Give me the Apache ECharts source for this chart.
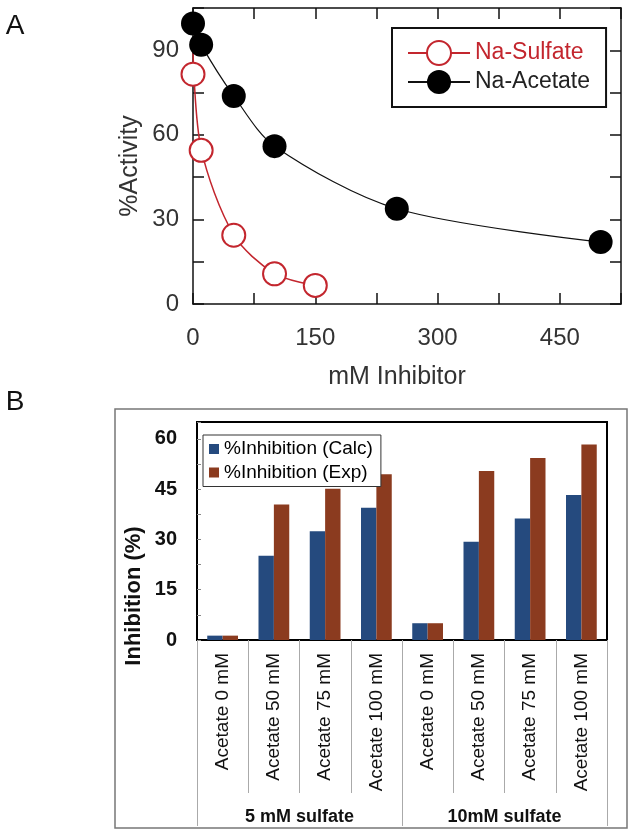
<!DOCTYPE html>
<html><head><meta charset="utf-8">
<script src="https://cdn.jsdelivr.net/npm/echarts@6/dist/echarts.min.js"></script>
<style>html,body{margin:0;padding:0;background:#fff}#c{width:632px;height:833px}</style>
</head><body><div id="c"></div>
<script>
// ---- Panel A data ----
const acetateX = [0, 10, 50, 100, 250, 500];
const acetateY = [99.5, 92, 73.8, 56, 33.8, 22];
const sulfateX = [0, 10, 50, 100, 150];
const sulfateY = [81.5, 54.5, 24.4, 10.7, 6.6];
const sulfateFitX = [0, 10, 50, 100, 150];
const sulfateFitY = [90, 55, 24.5, 10.8, 6.6];
const xTickLabelsA = [0, 150, 300, 450];
const yTickLabelsA = [0, 30, 60, 90];
// ---- Panel B data ----
const categoriesB = ['Acetate 0 mM', 'Acetate 50 mM', 'Acetate 75 mM', 'Acetate 100 mM',
                     'Acetate 0 mM', 'Acetate 50 mM', 'Acetate 75 mM', 'Acetate 100 mM'];
const groupsB = ['5 mM sulfate', '10mM sulfate'];
const calcB = [1.3, 25.1, 32.4, 39.4, 5.0, 29.3, 36.2, 43.2];
const expB  = [1.3, 40.4, 45.1, 49.4, 5.0, 50.4, 54.3, 58.3];
const yTickLabelsB = [0, 15, 30, 45, 60];

const FONT = 'Liberation Sans, Arial, sans-serif';
const RED = '#c3262e';
const zip = (a, b) => a.map((v, i) => [v, b[i]]);

function valAxisA(extra) {
  return Object.assign({
    type: 'value', gridIndex: 0, splitLine: {show: false},
    axisLine: {show: true, onZero: false, lineStyle: {color: '#111', width: 1.5}},
    axisTick: {show: true, inside: true, length: 11, lineStyle: {color: '#111', width: 1.5}}
  }, extra);
}

const chart = echarts.init(document.getElementById('c'), null, {renderer: 'canvas'});

chart.setOption({
  animation: false,
  backgroundColor: '#fff',
  grid: [
    {left: 193, right: 10, top: 5, bottom: 529, containLabel: false},
    {left: 197, right: 25, top: 422, bottom: 193, containLabel: false,
     show: true, borderColor: '#000', borderWidth: 2}
  ],
  xAxis: [
    valAxisA({position: 'bottom', min: 0, max: 525, interval: 75,
      axisLabel: {show: true, margin: 22, fontSize: 24, fontFamily: FONT, color: '#333',
        formatter: v => xTickLabelsA.includes(v) ? String(v) : ''}}),
    valAxisA({position: 'top', min: 0, max: 525, interval: 75,
      axisLabel: {show: true, color: 'rgba(0,0,0,0)', formatter: () => ''}}),
    {type: 'category', gridIndex: 1, position: 'bottom', data: categoriesB,
      axisLine: {show: true, lineStyle: {color: '#000', width: 1.5}},
      axisTick: {show: true, length: 153, alignWithLabel: false, lineStyle: {color: '#aaa', width: 1}},
      axisLabel: {interval: 0, rotate: 90, margin: 13, fontSize: 19, fontFamily: FONT, color: '#111'}},
    {type: 'category', gridIndex: 1, position: 'bottom', data: groupsB,
      axisLine: {show: false},
      axisTick: {show: true, length: 186, alignWithLabel: false, lineStyle: {color: '#aaa', width: 1}},
      axisLabel: {interval: 0, margin: 168, fontSize: 18, fontWeight: 'bold', fontFamily: FONT, color: '#111'}}
  ],
  yAxis: [
    valAxisA({position: 'left', min: 0, max: 105, interval: 15,
      axisLabel: {show: true, margin: 14, fontSize: 24, fontFamily: FONT, color: '#333',
        formatter: v => yTickLabelsA.includes(v) ? String(v) : ''}}),
    valAxisA({position: 'right', min: 0, max: 105, interval: 15,
      axisLabel: {show: true, color: 'rgba(0,0,0,0)', formatter: () => ''}}),
    {type: 'value', gridIndex: 1, min: 0, max: 65, interval: 7.5, splitLine: {show: false},
      axisLine: {show: true, lineStyle: {color: '#000', width: 1.5}},
      axisTick: {show: true, inside: true, length: 4, lineStyle: {color: '#888'}},
      axisLabel: {margin: 20, fontSize: 20, fontWeight: 'bold', fontFamily: FONT, color: '#111',
        formatter: v => yTickLabelsB.includes(v) ? String(v) : ''}}
  ],
  legend: [
    {data: [{name: 'Na-Sulfate', textStyle: {color: RED}}, {name: 'Na-Acetate', textStyle: {color: '#222'}}],
     orient: 'vertical', left: 392, top: 28, padding: [10, 16, 10, 15],
     itemWidth: 62, itemHeight: 30, itemGap: -1,
     borderColor: '#111', borderWidth: 2, backgroundColor: '#fff',
     lineStyle: {opacity: 1},
     textStyle: {fontSize: 23, lineHeight: 30, fontFamily: FONT}},
    {data: ['%Inhibition (Calc)', '%Inhibition (Exp)'],
     orient: 'vertical', left: 203, top: 435, padding: [3, 8, 3, 6],
     itemWidth: 10, itemHeight: 10, itemGap: 1.5, icon: 'rect',
     borderColor: '#333', borderWidth: 1, backgroundColor: '#fff',
     textStyle: {fontSize: 19, lineHeight: 22, fontFamily: FONT, color: '#000'}}
  ],
  series: [
    {name: 'sulfate fit', type: 'line', xAxisIndex: 0, yAxisIndex: 0, data: zip(sulfateFitX, sulfateFitY),
     smooth: 0.3, symbol: 'none', lineStyle: {color: RED, width: 1.5}, z: 2},
    {name: 'Na-Sulfate', type: 'line', xAxisIndex: 0, yAxisIndex: 0, data: zip(sulfateX, sulfateY),
     symbol: 'emptyCircle', symbolSize: 23, lineStyle: {color: RED, width: 1.5, opacity: 0},
     itemStyle: {color: RED, borderColor: RED, borderWidth: 1.6}, z: 3},
    {name: 'Na-Acetate', type: 'line', xAxisIndex: 0, yAxisIndex: 0, data: zip(acetateX, acetateY),
     smooth: 0.3, symbol: 'circle', symbolSize: 24, lineStyle: {color: '#111', width: 1.2},
     itemStyle: {color: '#000'}, z: 4},
    {name: '%Inhibition (Calc)', type: 'bar', xAxisIndex: 2, yAxisIndex: 2, data: calcB,
     barGap: '0%', barCategoryGap: '40%', itemStyle: {color: '#254a7e'}},
    {name: '%Inhibition (Exp)', type: 'bar', xAxisIndex: 2, yAxisIndex: 2, data: expB,
     barGap: '0%', barCategoryGap: '40%', itemStyle: {color: '#8b3b1f'}}
  ],
  graphic: [
    {type: 'rect', z: -10, shape: {x: 115, y: 409, width: 512, height: 419},
     style: {fill: 'transparent', stroke: '#777', lineWidth: 1.5}},
    {type: 'text', x: 15, y: 26, style: {text: 'A', font: '28px ' + FONT, fill: '#111', align: 'center', verticalAlign: 'middle'}},
    {type: 'text', x: 15, y: 402, style: {text: 'B', font: '28px ' + FONT, fill: '#111', align: 'center', verticalAlign: 'middle'}},
    {type: 'text', x: 130, y: 166, rotation: Math.PI / 2,
     style: {text: '%Activity', font: '25px ' + FONT, fill: '#333', align: 'center', verticalAlign: 'middle'}},
    {type: 'text', x: 397, y: 377,
     style: {text: 'mM Inhibitor', font: '25px ' + FONT, fill: '#333', align: 'center', verticalAlign: 'middle'}},
    {type: 'text', x: 134, y: 596, rotation: Math.PI / 2,
     style: {text: 'Inhibition (%)', font: 'bold 22px ' + FONT, fill: '#111', align: 'center', verticalAlign: 'middle'}}
  ]
});
</script></body></html>
